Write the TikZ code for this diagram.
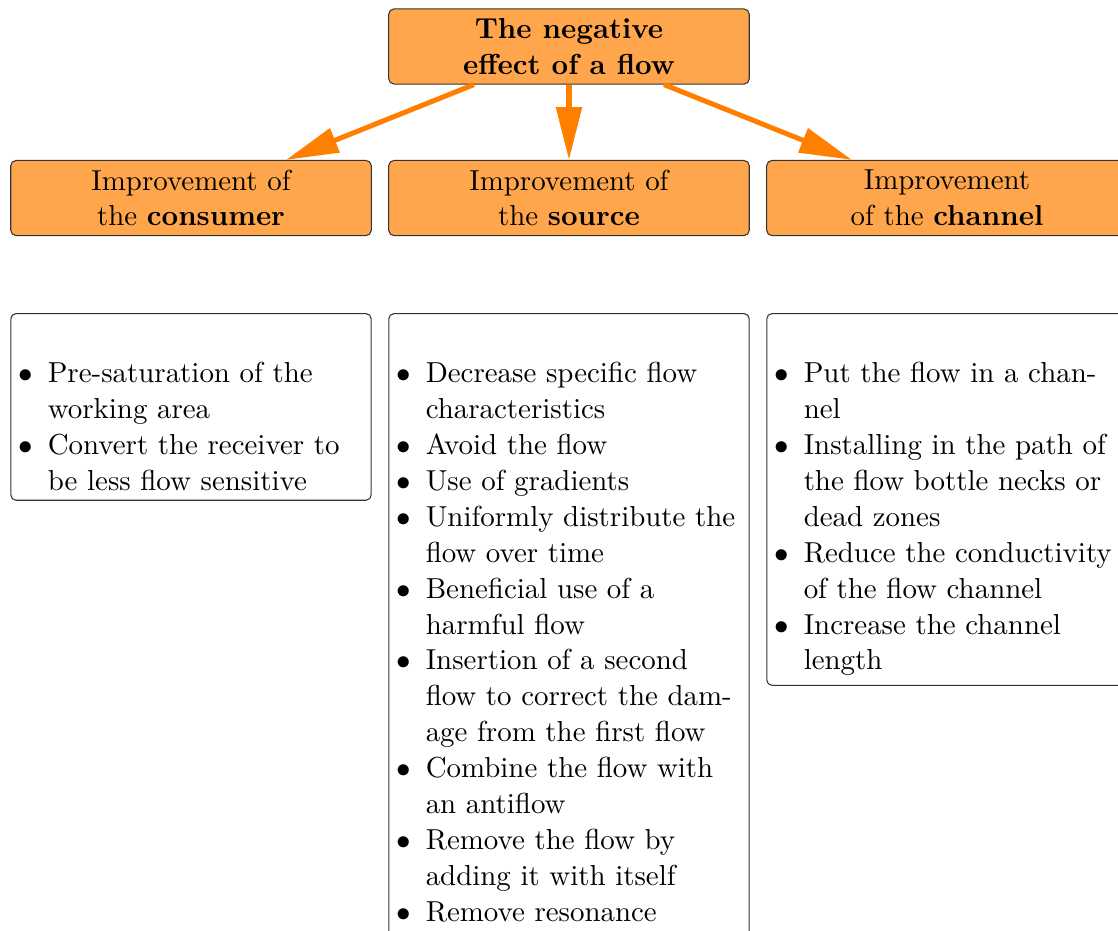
\documentclass[11pt,tikz,border=0pt]{standalone}
\usepackage{enumitem}
\usetikzlibrary{arrows.meta}
\setlist[itemize]{label=$\bullet$,leftmargin=11pt,labelsep=5.5pt,itemsep=0pt,parsep=0pt,topsep=0pt,partopsep=0pt}
\colorlet{headfill}{orange!70}
\newcommand{\flowlist}[2][0pt]{\vspace*{9pt}\begin{itemize}#2\end{itemize}\vspace*{#1}\hrule height 0pt}

\begin{document}
\begin{tikzpicture}[
    headbox/.style={draw=black!80, fill=headfill, rounded corners=2pt, minimum width=4.8cm, minimum height=1cm, align=center, inner sep=2pt},
    listbox/.style={draw=black!80, rounded corners=2pt, anchor=north, text width=130.5pt, inner xsep=3pt, inner ysep=3.6pt, align=left},
    flowarrow/.style={draw=orange, line width=1.9pt, -{Triangle[length=20pt,width=9.5pt]}}
]
\useasboundingbox (0,0) rectangle (14.884,-12.394);

% top of the tree
\node[headbox, font=\bfseries] (effect) at (7.575,-0.619) {The negative\\effect of a flow};

% three ways out
\node[headbox] (consumer) at (2.543,-2.636) {Improvement of\\the \textbf{consumer}};
\node[headbox] (source) at (7.575,-2.636) {Improvement of\\the \textbf{source}};
\node[headbox] (channel) at (12.607,-2.636) {Improvement\\of the \textbf{channel}};

\draw[flowarrow] (effect) -- (consumer);
\draw[flowarrow] (effect) -- (source);
\draw[flowarrow] (effect) -- (channel);

% what to do in each case
\node[listbox] (consumerlist) at (2.543,-4.167) {\flowlist{
    \item Pre-saturation of the\\working area
    \item Convert the receiver to\\be less flow sensitive}};
\node[listbox] (sourcelist) at (7.575,-4.167) {\flowlist[8pt]{
    \item Decrease specific flow\\characteristics
    \item Avoid the flow
    \item Use of gradients
    \item Uniformly distribute the\\flow over time
    \item Beneficial use of a\\harmful flow
    \item Insertion of a second\\flow to correct the dam-\\age from the first flow
    \item Combine the flow with\\an antiflow
    \item Remove the flow by\\adding it with itself
    \item Remove resonance}};
\node[listbox] (channellist) at (12.607,-4.167) {\flowlist{
    \item Put the flow in a chan-\\nel
    \item Installing in the path of\\the flow bottle necks or\\dead zones
    \item Reduce the conductivity\\of the flow channel
    \item Increase the channel\\length}};
\end{tikzpicture}
\end{document}
